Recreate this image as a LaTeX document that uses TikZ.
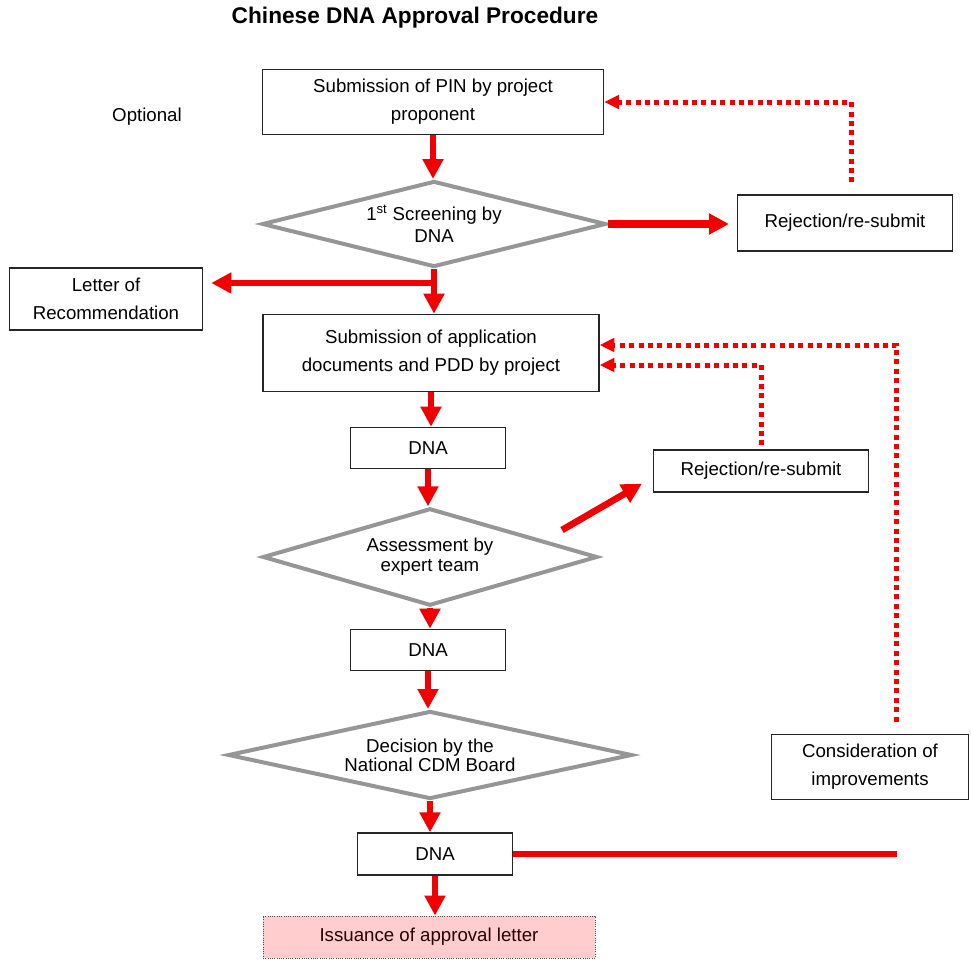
\documentclass[tikz,border=0pt]{standalone}
\usepackage{fontspec}
\setmainfont{Liberation Sans}
\usetikzlibrary{arrows.meta, shapes.geometric, calc, positioning}
\definecolor{flowRed}{RGB}{240,0,0}
\definecolor{edgeGray}{RGB}{150,150,150}
\definecolor{issuePink}{RGB}{255,205,205}
\tikzset{
    procBox/.style={rectangle, draw=black!85, line width=1pt, fill=white, align=center, inner sep=2pt, font=\fontsize{14}{21}\selectfont},
    decision/.style={diamond, draw=edgeGray, line width=3pt, fill=white, align=center, inner sep=0pt, font=\fontsize{14}{16}\selectfont},
    issueBox/.style={rectangle, draw=black!70, densely dotted, line width=0.7pt, fill=issuePink, align=center, text=black!85!red, font=\fontsize{14}{17}\selectfont},
    flowArrow/.style={-{Triangle[length=15pt, width=15pt]}, draw=flowRed, line width=5pt},
    flowLine/.style={draw=flowRed, line width=5pt},
    loopArrow/.style={-{Triangle[length=11pt, width=10pt]}, draw=flowRed, line width=3.75pt, dash pattern=on 3.75pt off 3.3pt},
}
\newcommand{\drawFlow}[3][flowArrow]{
    \draw[#1] (#2) -- (#3);
}
\newcommand{\drawDown}[2]{
    \draw[flowArrow] (#1.south) -- (#1.south |- #2.north);
}
\newcommand{\drawBack}[3][]{
    \draw[loopArrow, #1] (#2) |- (#3);
}

\begin{document}
\begin{tikzpicture}[x=0.75pt, y=-0.75pt]
        \useasboundingbox (0,0) rectangle (971,960);

        \node[font=\fontsize{17}{20}\selectfont\bfseries] (title) at (415,18) {Chinese DNA Approval Procedure};
        \node[font=\fontsize{14}{17}\selectfont] (optional) at (147,117) {Optional};

        \node[procBox, minimum width=256pt, minimum height=49pt] (pin) at (433,102) {Submission of PIN by project\\proponent};
        \node[decision, aspect=4, minimum width=258pt, minimum height=64.5pt, font=\fontsize{14}{16.5}\selectfont] (dec1) at (434,224) {1\textsuperscript{st} Screening by\\DNA};
        \node[procBox, minimum width=161pt, minimum height=42pt] (rej1) at (845,223) {Rejection/re-submit};
        \node[procBox, minimum width=145pt, minimum height=46.5pt] (letter) at (106,299) {Letter of\\Recommendation};
        \node[procBox, minimum width=252pt, minimum height=58pt] (sub) at (431,353) {Submission of application\\documents and PDD by project};
        \node[procBox, minimum width=116pt, minimum height=31pt] (dna1) at (428,448) {DNA};
        \node[procBox, minimum width=161pt, minimum height=31.5pt] (rej2) at (761,471) {Rejection/re-submit};
        \node[decision, aspect=3.45, minimum width=251pt, minimum height=73pt, font=\fontsize{14}{15}\selectfont] (dec2) at (430,557) {Assessment by\\expert team};
        \node[procBox, minimum width=116pt, minimum height=31pt] (dna2) at (428,650) {DNA};
        \node[decision, aspect=4.6, minimum width=303pt, minimum height=66pt, font=\fontsize{14}{13}\selectfont] (dec3) at (430,755) {Decision by the\\National CDM Board};
        \node[procBox, minimum width=148pt, minimum height=49pt] (cons) at (870,767) {Consideration of\\improvements};
        \node[procBox, minimum width=116pt, minimum height=31.5pt] (dna3) at (435,854) {DNA};
        \node[issueBox, minimum width=249pt, minimum height=31.5pt] (issue) at (429,937) {Issuance of approval letter};

        \coordinate (split) at ($(dec1.south)+(0,14)$);
        \coordinate (rejFrom) at (562,530);
        \coordinate (consEnd) at (897,854);

        \drawDown{pin}{dec1}
        \drawFlow[flowArrow, line width=6pt, shorten >=6pt]{dec1.east}{dec1.east -| rej1.west}
        \drawDown{dec1}{sub}
        \drawFlow[flowArrow, shorten >=6pt]{split}{split -| letter.east}
        \drawDown{sub}{dna1}
        \drawDown{dna1}{dec2}
        \drawFlow{rejFrom}{$(rej2.south west)+(-11,-9)$}
        \drawDown{dec2}{dna2}
        \drawDown{dna2}{dec3}
        \drawDown{dec3}{dna3}
        \drawDown{dna3}{issue}
        \drawFlow[flowLine]{dna3.east}{consEnd}

        \drawBack[shorten <=9pt]{[xshift=5pt]rej1.north}{pin.east}
        \drawBack[shorten <=3pt]{rej2.north}{[yshift=-9pt]sub.east}
        \drawBack[shorten <=9pt]{[xshift=20pt]cons.north}{[yshift=6pt]sub.east}

    \end{tikzpicture}
\end{document}
